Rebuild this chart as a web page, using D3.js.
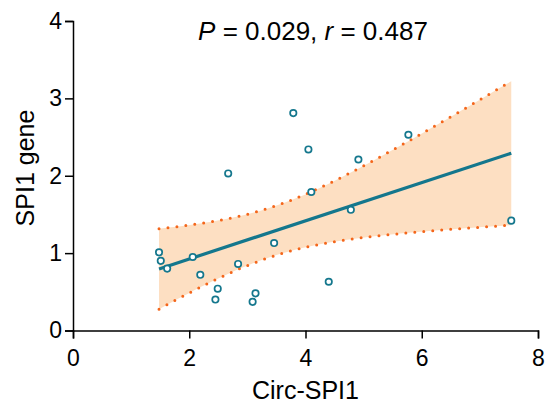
<!DOCTYPE html>
<html lang="en">
<head>
<meta charset="UTF-8">
<title>Circ-SPI1 vs SPI1 gene</title>
<script src="https://d3js.org/d3.v7.min.js"></script>
<style>
  body { margin: 0; background: #fff; }
  svg { font-family: "Liberation Sans", Arial, sans-serif; }
  .axis path, .axis line { stroke: #000; stroke-width: 1.5px; }
  .axis text { font-size: 23px; fill: #000; font-family: "Liberation Sans", Arial, sans-serif; }
</style>
</head>
<body>
<svg></svg>
<script>
const [width, height] = [548, 405]

// measured samples
const circSPI1 = [1.48, 1.51, 1.62, 2.06, 2.19, 2.49, 2.45, 2.67, 2.84, 3.14,
                  3.09, 3.46, 3.79, 4.05, 4.10, 4.40, 4.78, 4.91, 5.77, 7.54]
const spi1Gene = [1.01, 0.90, 0.80, 0.95, 0.72, 0.54, 0.40, 2.03, 0.86, 0.48,
                  0.37, 1.13, 2.81, 2.34, 1.79, 0.63, 1.56, 2.21, 2.53, 1.42]
const xTicks = [0, 2, 4, 6, 8]
const yTicks = [0, 1, 2, 3, 4]
const tCrit = 2.101 // t(0.975, df = 18)

const teal = '#14778d', orange = '#f4661b', band = '#fddfc2'

const svg = d3.select('svg').attr('width', width).attr('height', height)
const x = d3.scaleLinear().domain([0, 8]).range([73, 538])
const y = d3.scaleLinear().domain([0, 4]).range([330.5, 21])

// linear fit + 95% CI of the mean
const pts = circSPI1.map((v, i) => [v, spi1Gene[i]])
const n = pts.length
const mx = d3.mean(circSPI1), my = d3.mean(spi1Gene)
const sxx = d3.sum(circSPI1, v => (v - mx) ** 2)
const sxy = d3.sum(pts, p => (p[0] - mx) * (p[1] - my))
const slope = sxy / sxx, icept = my - slope * mx
const s = Math.sqrt(d3.sum(pts, p => (p[1] - icept - slope * p[0]) ** 2) / (n - 2))
const [x0, x1] = d3.extent(circSPI1)
const grid = d3.range(0, 61).map(i => x0 + (x1 - x0) * i / 60)
const ci = grid.map(v => {
  const fit = icept + slope * v
  const h = tCrit * s * Math.sqrt(1 / n + (v - mx) ** 2 / sxx)
  return {v, fit, lo: fit - h, hi: fit + h}
})

svg.append('path').datum(ci)
  .attr('fill', band)
  .attr('d', d3.area().x(d => x(d.v)).y0(d => y(d.lo)).y1(d => y(d.hi)))

const dotted = key => svg.append('path').datum(ci)
  .attr('fill', 'none').attr('stroke', orange).attr('stroke-width', 3)
  .attr('stroke-linecap', 'round').attr('stroke-dasharray', '0 9')
  .attr('d', d3.line().x(d => x(d.v)).y(d => y(d[key])))
dotted('hi')
dotted('lo')

svg.append('path').datum([x0, x1])
  .attr('stroke', teal).attr('stroke-width', 3.2)
  .attr('d', d3.line().x(v => x(v)).y(v => y(icept + slope * v)))

svg.append('g').selectAll('circle').data(pts).join('circle')
  .attr('cx', d => x(d[0])).attr('cy', d => y(d[1])).attr('r', 3.2)
  .attr('fill', '#fff').attr('stroke', teal).attr('stroke-width', 1.7)

// axes
svg.append('g').attr('class', 'axis').attr('transform', `translate(0,${y(0)})`)
  .call(d3.axisBottom(x).tickValues(xTicks).tickFormat(d3.format('d'))
    .tickSizeOuter(0).tickSize(8).tickPadding(11))
svg.append('g').attr('class', 'axis').attr('transform', `translate(${x(0)},0)`)
  .call(d3.axisLeft(y).tickValues(yTicks).tickFormat(d3.format('d'))
    .tickSizeOuter(0).tickSize(8).tickPadding(3))

svg.append('text').attr('x', 305.5).attr('y', 399).attr('text-anchor', 'middle')
  .attr('font-size', 25).text('Circ-SPI1')
svg.append('text').attr('transform', 'translate(34,168) rotate(-90)')
  .attr('text-anchor', 'middle').attr('font-size', 25).text('SPI1 gene')

const title = svg.append('text').attr('x', 313).attr('y', 40)
  .attr('text-anchor', 'middle').attr('font-size', 26)
title.append('tspan').attr('font-style', 'italic').text('P')
title.append('tspan').text(' = 0.029, ')
title.append('tspan').attr('font-style', 'italic').text('r')
title.append('tspan').text(' = 0.487')
</script>
</body>
</html>
